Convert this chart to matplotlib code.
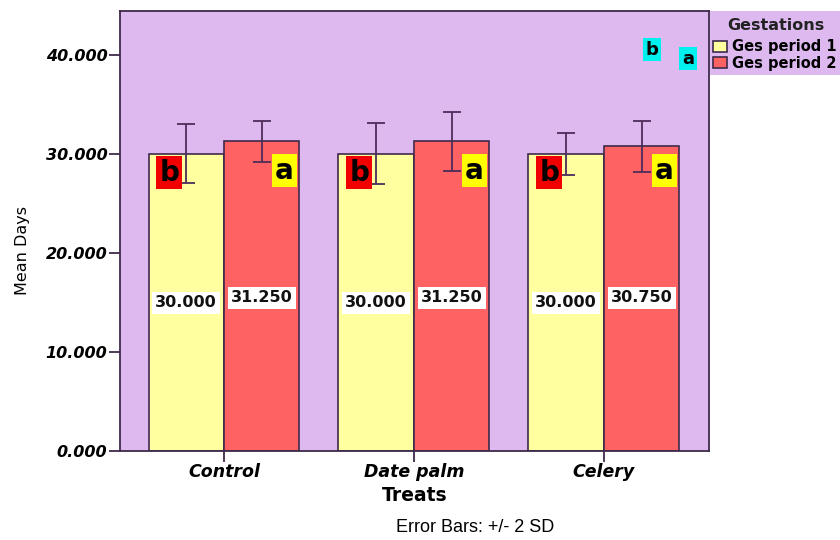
import numpy as np
import matplotlib
matplotlib.use('Agg')
import matplotlib.pyplot as plt
from matplotlib.patches import Rectangle

# data
treats = ['Control', 'Date palm', 'Celery']
ges1 = [30.000, 30.000, 30.000]
ges2 = [31.250, 31.250, 30.750]
err1 = [3.0, 3.05, 2.1]     # +/- 2 SD
err2 = [2.05, 3.0, 2.55]
letters1 = ['b', 'b', 'b']
letters2 = ['a', 'a', 'a']
series_names = ['Ges period 1', 'Ges period 2']

purple = '#DDB9F0'
yellow = '#FFFFA0'
red = '#FF6262'
dark = '#3E2A4A'

fig = plt.figure(figsize=(8.4, 5.4), dpi=100)
ax = fig.add_axes([120/840, 89/540, 589/840, 440/540])
ax.set_facecolor(purple)

x = np.arange(len(treats))
w = 0.397
b1 = ax.bar(x - w/2, ges1, w, color=yellow, edgecolor=dark, linewidth=1.2, zorder=2)
b2 = ax.bar(x + w/2, ges2, w, color=red, edgecolor=dark, linewidth=1.2, zorder=2)
ax.errorbar(x - w/2, ges1, yerr=err1, fmt='none', ecolor='#4B2D5A', elinewidth=1.3,
            capsize=6.5, capthick=1.3, zorder=3)
ax.errorbar(x + w/2, ges2, yerr=err2, fmt='none', ecolor='#4B2D5A', elinewidth=1.3,
            capsize=6.5, capthick=1.3, zorder=3)

# mean labels
for i in range(len(treats)):
    ax.text(x[i] - w/2, 14.95, f'{ges1[i]:.3f}', ha='center', va='center', fontsize=11.5,
            fontweight='bold', color='#111111', zorder=5,
            bbox=dict(boxstyle='square,pad=0.2', fc='white', ec='none'))
    ax.text(x[i] + w/2, 15.45, f'{ges2[i]:.3f}', ha='center', va='center', fontsize=11.5,
            fontweight='bold', color='#111111', zorder=5,
            bbox=dict(boxstyle='square,pad=0.2', fc='white', ec='none'))
    # significance letters
    ax.text(x[i] - w/2 - 0.09, 28.1, letters1[i], ha='center', va='center', fontsize=20,
            fontweight='bold', color='black', zorder=5,
            bbox=dict(boxstyle='square,pad=0.1', fc='#F00000', ec='none'))
    ax.text(x[i] + w/2 + 0.12, 28.3, letters2[i], ha='center', va='center', fontsize=20,
            fontweight='bold', color='black', zorder=5,
            bbox=dict(boxstyle='square,pad=0.1', fc='#FFFF00', ec='none'))

# cyan letters in corner
ax.text(2.253, 40.5, 'b', ha='center', va='center', fontsize=13, fontweight='bold',
        zorder=5, bbox=dict(boxstyle='square,pad=0.15', fc='#00F0F0', ec='none'))
ax.text(2.442, 39.6, 'a', ha='center', va='center', fontsize=13, fontweight='bold',
        zorder=5, bbox=dict(boxstyle='square,pad=0.15', fc='#00F0F0', ec='none'))

ax.set_xlim(-0.547, 2.553)
ax.set_ylim(0, 44.4)
ax.set_yticks([0, 10, 20, 30, 40])
ax.set_yticklabels([f'{v:.3f}' for v in [0, 10, 20, 30, 40]],
                   fontweight='bold', fontstyle='italic', fontsize=11.5)
ax.set_xticks(x)
ax.set_xticklabels(treats, fontweight='bold', fontstyle='italic', fontsize=12.5)
ax.tick_params(axis='both', direction='out', length=8, width=1.3, color=dark, pad=1)
ax.tick_params(axis='x', pad=0.5)
for s in ax.spines.values():
    s.set_color(dark)
    s.set_linewidth(1.3)

ax.set_ylabel('Mean Days', fontsize=11.5, color='black',
              family=['Liberation Sans Narrow', 'DejaVu Sans'])
ax.yaxis.set_label_coords(-0.152, 0.455)
ax.set_xlabel('Treats', fontsize=13.5, fontweight='bold', labelpad=4)
fig.text(475/840, 1 - 527/540, 'Error Bars: +/- 2 SD', ha='center', va='center',
         fontsize=13, family=['Liberation Sans', 'DejaVu Sans'])

# legend panel
fig.patches.append(Rectangle((710/840, 1 - 75/540), 130/840, 64/540,
                             transform=fig.transFigure, fc=purple, ec='none', zorder=-1))
fig.text(776/840, 1 - 25/540, 'Gestations', ha='center', va='center',
         fontsize=11.5, fontweight='bold', color='#222222')
leg = ax.legend([b1, b2], series_names, loc='upper left',
                bbox_to_anchor=(709/840, 1 - 35/540), bbox_transform=fig.transFigure,
                frameon=False, handlelength=0.9, handleheight=0.8, handletextpad=0.35,
                borderpad=0.1, borderaxespad=0.2, labelspacing=0.1,
                prop={'weight': 'bold', 'size': 10.5})

fig.savefig('out.png', dpi=100)
